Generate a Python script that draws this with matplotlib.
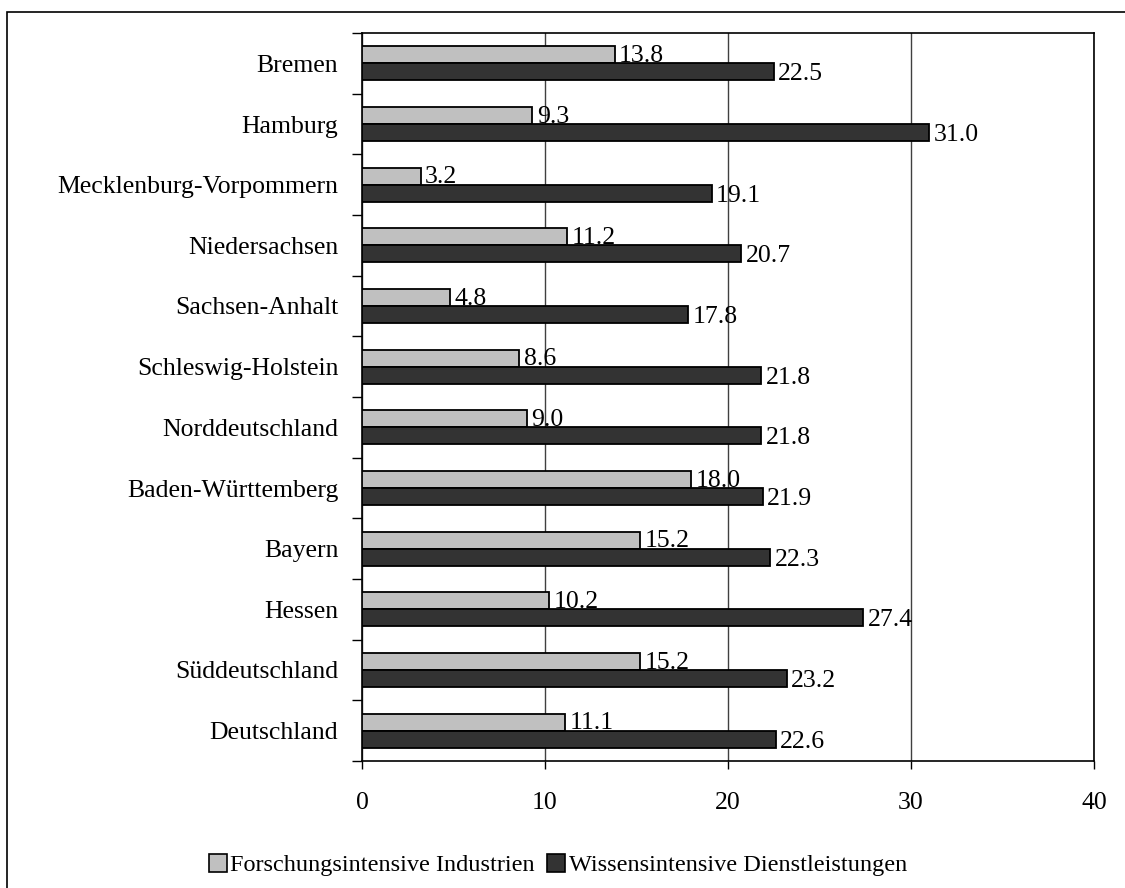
import numpy as np
import matplotlib
matplotlib.use("Agg")
from matplotlib import pyplot as plt
from matplotlib.patches import Rectangle, Patch

plt.rcParams["font.family"] = ["Liberation Serif", "DejaVu Serif"]

regions = ["Bremen", "Hamburg", "Mecklenburg-Vorpommern", "Niedersachsen",
           "Sachsen-Anhalt", "Schleswig-Holstein", "Norddeutschland",
           "Baden-Württemberg", "Bayern", "Hessen", "Süddeutschland",
           "Deutschland"]
forschung = [13.8, 9.3, 3.2, 11.2, 4.8, 8.6, 9.0, 18.0, 15.2, 10.2, 15.2, 11.1]
wissen = [22.5, 31.0, 19.1, 20.7, 17.8, 21.8, 21.8, 21.9, 22.3, 27.4, 23.2, 22.6]
series_names = ["Forschungsintensive Industrien",
                "Wissensintensive Dienstleistungen"]
x_ticks = [0, 10, 20, 30, 40]

FS = 18.5
light, dark = "#c0c0c0", "#333333"

fig = plt.figure(figsize=(11.25, 8.88), dpi=100)
# outer chart frame (cut off at right and bottom)
fig.patches.append(Rectangle((7 / 1125, -0.05), 1.2, 1 - 12 / 888 + 0.05,
                             transform=fig.transFigure, fill=False,
                             edgecolor="black", linewidth=1.2))

ax = fig.add_axes([362 / 1125, 1 - 761 / 888, 732 / 1125, 728 / 888])

y = np.arange(len(regions))
h = 0.28
ax.barh(y - h / 2, forschung, height=h, color=light, edgecolor="black",
        linewidth=1.3, label=series_names[0], zorder=3)
ax.barh(y + h / 2, wissen, height=h, color=dark, edgecolor="black",
        linewidth=1.3, label=series_names[1], zorder=3)

for yi, v in zip(y, forschung):
    ax.text(v + 0.25, yi - h / 2 + 0.02, f"{v:.1f}", va="center", ha="left",
            fontsize=FS, zorder=4)
for yi, v in zip(y, wissen):
    ax.text(v + 0.25, yi + h / 2 + 0.04, f"{v:.1f}", va="center", ha="left",
            fontsize=FS, zorder=4)

ax.set_xlim(0, 40)
ax.set_ylim(len(regions) - 0.5, -0.5)
ax.set_xticks(x_ticks)
ax.set_xticklabels([str(t) for t in x_ticks], fontsize=FS)
ax.tick_params(axis="x", direction="out", length=6, width=1, pad=16)
ax.xaxis.grid(True, color="#404040", linewidth=1, zorder=0)

ax.set_yticks(y)
ax.set_yticklabels(regions, fontsize=FS)
ax.tick_params(axis="y", which="major", length=0, pad=17)
ax.set_yticks(np.arange(len(regions) + 1) - 0.5, minor=True)
ax.tick_params(axis="y", which="minor", direction="out", length=7, width=1)

for s in ax.spines.values():
    s.set_color("black")
    s.set_linewidth(1.2)

handles = [Patch(facecolor=light, edgecolor="black", linewidth=1.2),
           Patch(facecolor=dark, edgecolor="black", linewidth=1.2)]
fig.legend(handles, series_names, loc="center", bbox_to_anchor=(0.496, 0.026),
           ncol=2, frameon=False, fontsize=17.5, handlelength=0.75,
           handleheight=0.75, handletextpad=0.15, columnspacing=0.5)

fig.savefig("out.png", dpi=100)
